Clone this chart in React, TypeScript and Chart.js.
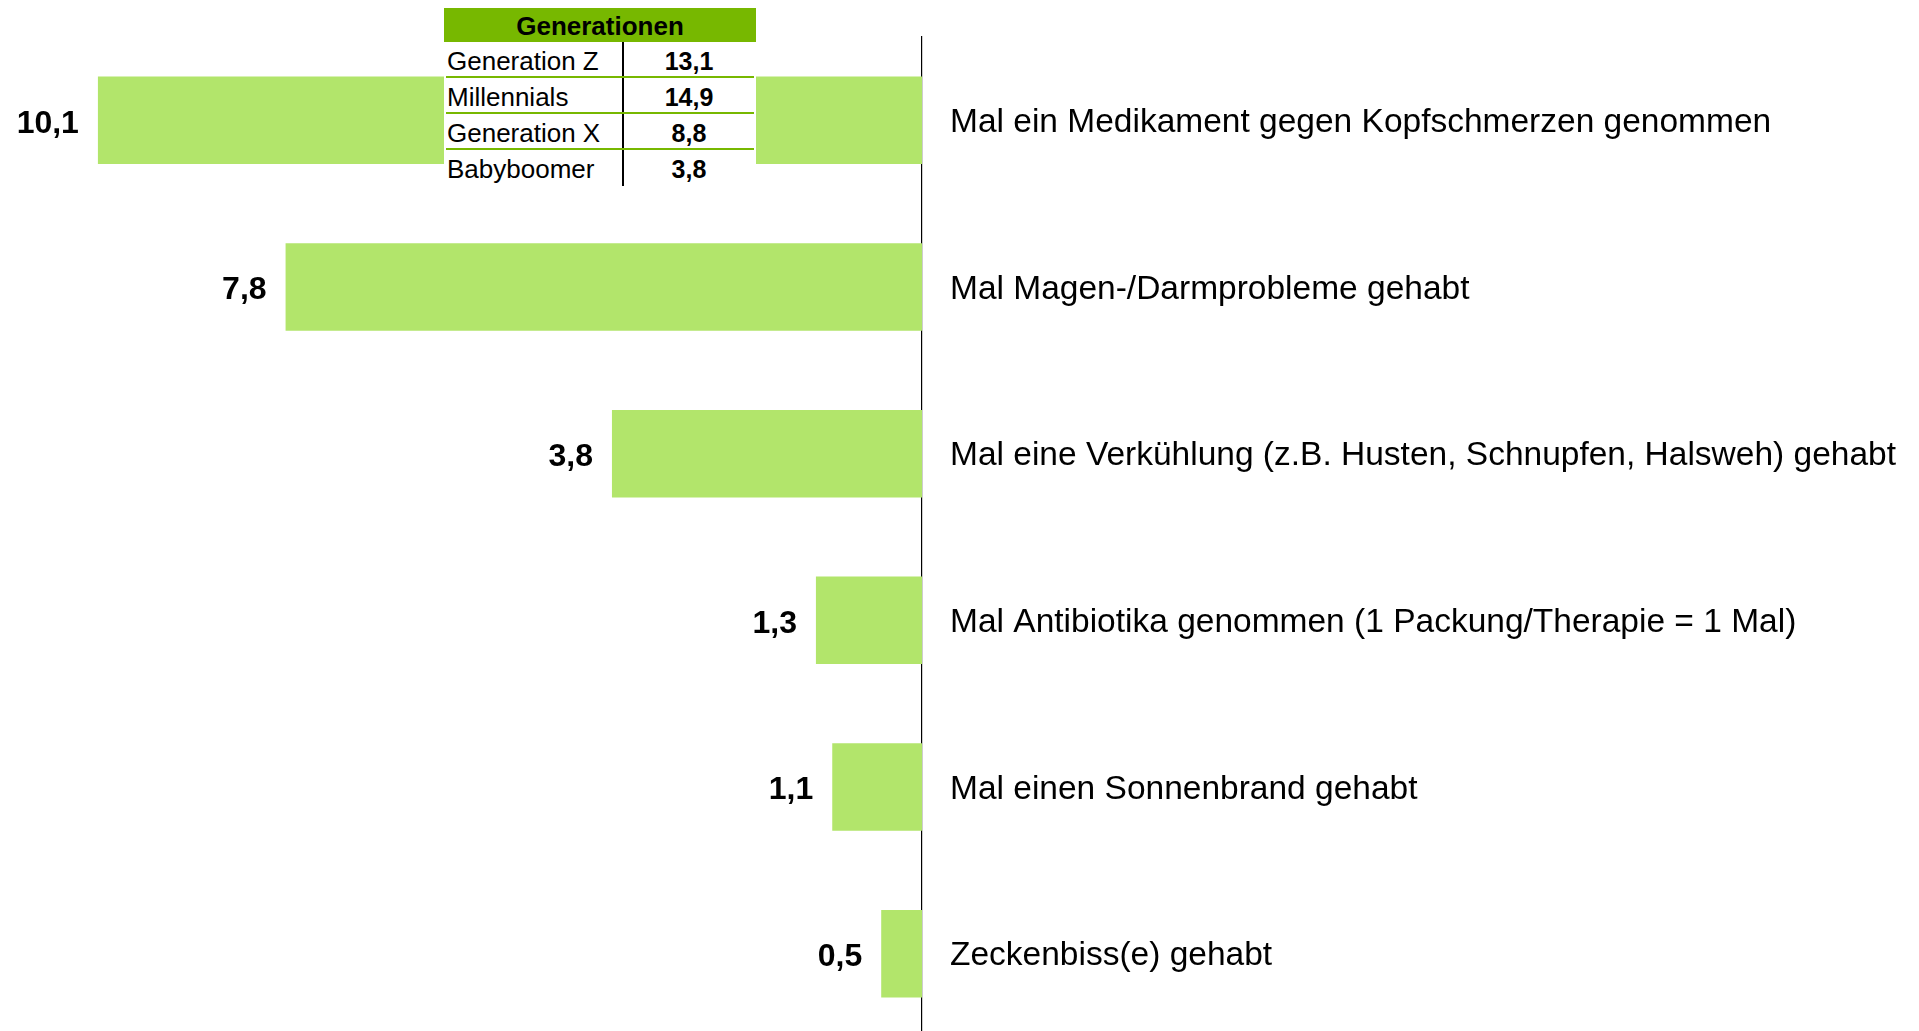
import React, { useEffect, useRef } from "react";
import { Chart, registerables } from "chart.js";

Chart.register(...registerables);

const categories = [
  "Mal ein Medikament gegen Kopfschmerzen genommen",
  "Mal Magen-/Darmprobleme gehabt",
  "Mal eine Verkühlung (z.B. Husten, Schnupfen, Halsweh) gehabt",
  "Mal Antibiotika genommen (1 Packung/Therapie = 1 Mal)",
  "Mal einen Sonnenbrand gehabt",
  "Zeckenbiss(e) gehabt",
];
const values = [10.1, 7.8, 3.8, 1.3, 1.1, 0.5];

const tableTitle = "Generationen";
const generations = ["Generation Z", "Millennials", "Generation X", "Babyboomer"];
const generationValues = [13.1, 14.9, 8.8, 3.8];

const BAR_COLOR = "#B2E56B";
const HEAD_COLOR = "#77B800";
const FONT = "'Liberation Sans', Arial, Helvetica, sans-serif";

const fmt = (v: number) => v.toFixed(1).replace(".", ",");

const valueLabelPlugin = {
  id: "valueLabels",
  afterDatasetsDraw(chart: any) {
    const ctx = chart.ctx;
    const meta = chart.getDatasetMeta(0);
    ctx.save();
    ctx.font = `bold 32px ${FONT}`;
    ctx.fillStyle = "#000";
    ctx.textAlign = "right";
    ctx.textBaseline = "middle";
    meta.data.forEach((bar: any, i: number) => {
      const v = chart.data.datasets[0].data[i];
      ctx.fillText(fmt(v), bar.x - 19, bar.y + 3.5);
    });
    ctx.restore();
  },
};

export default function App() {
  const ref = useRef<HTMLCanvasElement | null>(null);

  useEffect(() => {
    if (!ref.current) return;
    const chart = new Chart(ref.current, {
      type: "bar",
      data: {
        labels: categories,
        datasets: [
          {
            data: values,
            backgroundColor: BAR_COLOR,
            borderWidth: 0,
            categoryPercentage: 1,
            barPercentage: 0.525,
          },
        ],
      },
      options: {
        indexAxis: "y",
        animation: false,
        responsive: false,
        maintainAspectRatio: false,
        layout: { padding: { left: 0, right: 0, top: 37, bottom: 3 } },
        plugins: {
          legend: { display: false },
          tooltip: { enabled: false },
          title: { display: false },
        },
        scales: {
          x: {
            display: false,
            reverse: true,
            min: 0,
            max: 11.3,
          },
          y: {
            position: "right",
            offset: true,
            grid: { display: false, drawTicks: false },
            border: { display: true, color: "#000", width: 1.2 },
            ticks: {
              padding: 28,
              labelOffset: 2.5,
              color: "#000",
              font: { family: FONT, size: 33.5 },
            },
            afterFit(scale: any) {
              scale.width = 997;
              scale.paddingTop = 0;
              scale.paddingBottom = 0;
            },
          },
        },
      },
      plugins: [valueLabelPlugin],
    });
    return () => chart.destroy();
  }, []);

  return (
    <div
      style={{
        position: "fixed",
        left: 0,
        top: 0,
        width: 1919,
        height: 1040,
        background: "#fff",
        overflow: "hidden",
      }}
    >
      <canvas ref={ref} width={1919} height={1040} style={{ display: "block" }} />
      <div
        style={{
          position: "absolute",
          left: 444,
          top: 8,
          width: 312,
          background: "#fff",
          fontFamily: FONT,
          color: "#000",
        }}
      >
        <div
          style={{
            height: 34,
            background: HEAD_COLOR,
            fontWeight: "bold",
            fontSize: 26,
            lineHeight: "36px",
            textAlign: "center",
          }}
        >
          {tableTitle}
        </div>
        {generations.map((g, i) => (
          <div
            key={g}
            style={{
              display: "flex",
              height: 36,
              boxSizing: "border-box",
              borderBottom: i < generations.length - 1 ? `2px solid ${HEAD_COLOR}` : "none",
              margin: "0 2px",
            }}
          >
            <div
              style={{
                width: 178,
                boxSizing: "border-box",
                borderRight: "2px solid #000",
                fontSize: 26,
                lineHeight: "38px",
                paddingLeft: 1,
                whiteSpace: "nowrap",
              }}
            >
              {g}
            </div>
            <div
              style={{
                flex: 1,
                textAlign: "center",
                fontWeight: "bold",
                fontSize: 25,
                lineHeight: "38px",
              }}
            >
              {fmt(generationValues[i])}
            </div>
          </div>
        ))}
      </div>
    </div>
  );
}
